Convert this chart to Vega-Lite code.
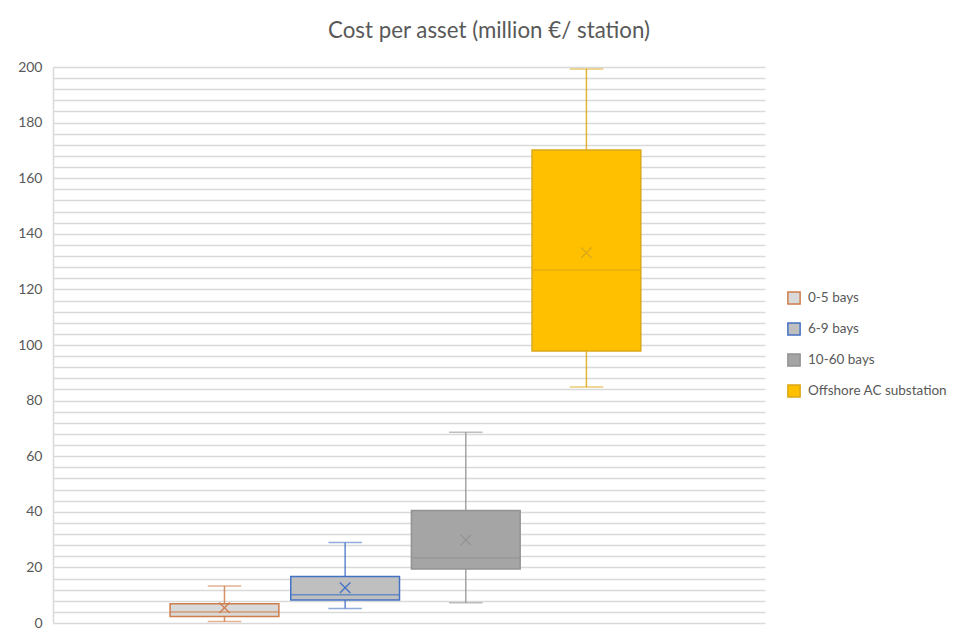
{
  "$schema": "https://vega.github.io/schema/vega-lite/v6.json",
  "autosize": "none",
  "width": 712,
  "height": 556,
  "padding": {"left": 53, "top": 67, "right": 190, "bottom": 11},
  "background": "white",
  "config": {
    "font": "Lato",
    "view": {"stroke": null}
  },
  "title": {
    "text": "Cost per asset (million €/ station)",
    "fontSize": 22.3,
    "fontWeight": "normal",
    "color": "#595959",
    "font": "Lato",
    "anchor": "middle",
    "frame": "group",
    "dx": 80,
    "offset": 18
  },
  "data": {
    "values": [
      {"series": "0-5 bays", "min": 0.5, "q1": 2.3, "median": 4.0, "q3": 6.9, "max": 13.3, "mean": 5.5},
      {"series": "6-9 bays", "min": 5.2, "q1": 8.3, "median": 10.2, "q3": 16.7, "max": 29.0, "mean": 12.7},
      {"series": "10-60 bays", "min": 7.3, "q1": 19.4, "median": 23.5, "q3": 40.5, "max": 68.6, "mean": 29.9},
      {"series": "Offshore AC substation", "min": 84.9, "q1": 97.8, "median": 127.0, "q3": 170.1, "max": 199.3, "mean": 133.2}
    ]
  },
  "encoding": {
    "x": {
      "field": "series",
      "type": "nominal",
      "sort": null,
      "scale": {"paddingInner": 0.0985, "paddingOuter": 1.021, "align": 0.4853},
      "axis": null
    }
  },
  "layer": [
    {
      "mark": {"type": "rule", "strokeWidth": 1.5, "strokeOpacity": 0.85},
      "encoding": {
        "y": {
          "field": "min",
          "type": "quantitative",
          "scale": {"domain": [0, 200], "nice": false},
          "axis": {
            "title": null,
            "values": [0,4,8,12,16,20,24,28,32,36,40,44,48,52,56,60,64,68,72,76,80,84,88,92,96,100,104,108,112,116,120,124,128,132,136,140,144,148,152,156,160,164,168,172,176,180,184,188,192,196,200],
            "tickCount": 100,
            "labelExpr": "datum.value % 20 == 0 ? datum.label : ''",
            "labelOverlap": false,
            "grid": true,
            "gridColor": "#D9D9D9",
            "gridWidth": 1.5,
            "domain": true,
            "domainColor": "#D9D9D9",
            "domainWidth": 1.5,
            "ticks": false,
            "labelPadding": 11,
            "labelFontSize": 14,
            "labelColor": "#595959",
            "labelFont": "Lato"
          }
        },
        "y2": {"field": "max"},
        "stroke": {
          "field": "series",
          "type": "nominal",
          "sort": null,
          "scale": {"range": ["#CE7E4C", "#4472C4", "#939393", "#DCA818"]},
          "legend": null
        }
      }
    },
    {
      "mark": {"type": "tick", "size": 32, "thickness": 0.01, "filled": false, "strokeWidth": 1.5, "strokeOpacity": 0.85},
      "encoding": {
        "y": {"field": "min", "type": "quantitative"},
        "stroke": {"field": "series", "type": "nominal", "sort": null, "legend": null}
      }
    },
    {
      "mark": {"type": "tick", "size": 32, "thickness": 0.01, "filled": false, "strokeWidth": 1.5, "strokeOpacity": 0.85},
      "encoding": {
        "y": {"field": "max", "type": "quantitative"},
        "stroke": {"field": "series", "type": "nominal", "sort": null, "legend": null}
      }
    },
    {
      "mark": {"type": "bar", "strokeWidth": 1.5},
      "encoding": {
        "y": {"field": "q1", "type": "quantitative"},
        "y2": {"field": "q3"},
        "fill": {
          "field": "series",
          "type": "nominal",
          "sort": null,
          "scale": {"range": ["#D9D9D9", "#BFBFBF", "#A5A5A5", "#FFC000"]},
          "legend": {
            "title": null,
            "orient": "none",
            "legendX": 734,
            "legendY": 224,
            "symbolType": "square",
            "symbolSize": 150,
            "symbolStrokeWidth": 1.5,
            "labelFontSize": 13.5,
            "labelColor": "#595959",
            "labelFont": "Lato",
            "rowPadding": 11,
            "labelOffset": 7,
            "encode": {
              "symbols": {
                "update": {
                  "stroke": {"scale": "stroke", "field": "value"},
                  "strokeWidth": {"value": 1.5}
                }
              }
            }
          }
        },
        "stroke": {"field": "series", "type": "nominal", "sort": null, "legend": null}
      }
    },
    {
      "mark": {"type": "tick", "size": 107, "thickness": 0.01, "filled": false, "strokeWidth": 1.5},
      "encoding": {
        "y": {"field": "median", "type": "quantitative"},
        "stroke": {"field": "series", "type": "nominal", "sort": null, "legend": null}
      }
    },
    {
      "mark": {"type": "point", "shape": "M-1,-1L1,1M1,-1L-1,1", "filled": false, "size": 110, "strokeWidth": 1.3, "opacity": 1},
      "encoding": {
        "y": {"field": "mean", "type": "quantitative"},
        "stroke": {"field": "series", "type": "nominal", "sort": null, "legend": null}
      }
    }
  ]
}
